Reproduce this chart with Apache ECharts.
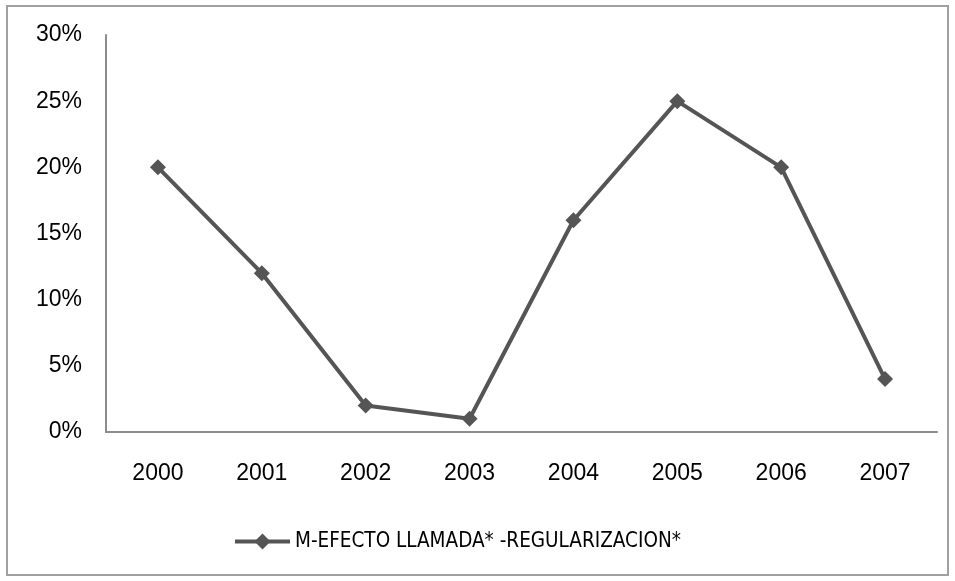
<!DOCTYPE html>
<html>
<head>
<meta charset="utf-8">
<script src="https://cdn.jsdelivr.net/npm/echarts@6/dist/echarts.min.js"></script>
<style>
html,body{margin:0;padding:0;background:#fff;}
#frame{position:absolute;left:6px;top:5px;width:943px;height:571px;border:2px solid #a0a0a0;box-sizing:border-box;}
#chart{position:absolute;left:0;top:0;width:955px;height:581px;}
</style>
</head>
<body>
<div id="frame"></div>
<div id="chart"></div>
<script>
const years = ['2000','2001','2002','2003','2004','2005','2006','2007'];
const seriesName = 'M-EFECTO LLAMADA* -REGULARIZACION*';
const values = [20, 12, 2, 1, 16, 25, 20, 4];
const yTicks = [0, 5, 10, 15, 20, 25, 30];

const labelFont = '"Liberation Sans", Arial, sans-serif';
const chart = echarts.init(document.getElementById('chart'), null, {renderer:'canvas'});
chart.setOption({
  animation:false,
  backgroundColor:'transparent',
  grid:{left:106, right:18, top:35, bottom:149, containLabel:false},
  xAxis:{
    type:'category', data:years, boundaryGap:true,
    axisLine:{lineStyle:{color:'#8c8c8c', width:2}},
    axisTick:{show:false},
    axisLabel:{color:'#000', fontSize:23, fontFamily:labelFont, margin:30}
  },
  yAxis:{
    type:'value', min:yTicks[0], max:yTicks[yTicks.length-1], interval:5,
    axisLine:{show:true, lineStyle:{color:'#8c8c8c', width:2}},
    axisTick:{show:false},
    splitLine:{show:false},
    axisLabel:{color:'#000', fontSize:23, fontFamily:labelFont, margin:24, formatter:'{value}%'}
  },
  legend:{
    left:228, top:526,
    itemWidth:55, itemHeight:20, itemGap:6,
    lineStyle:{width:4},
    textStyle:{color:'#000', fontSize:20.5, fontFamily:'"Liberation Sans Narrow", "DejaVu Sans Condensed", sans-serif'},
    data:[seriesName]
  },
  series:[{
    name:seriesName, type:'line', data:values,
    symbol:'diamond', symbolSize:16,
    lineStyle:{color:'#555555', width:4},
    itemStyle:{color:'#555555'}
  }]
});
</script>
</body>
</html>
